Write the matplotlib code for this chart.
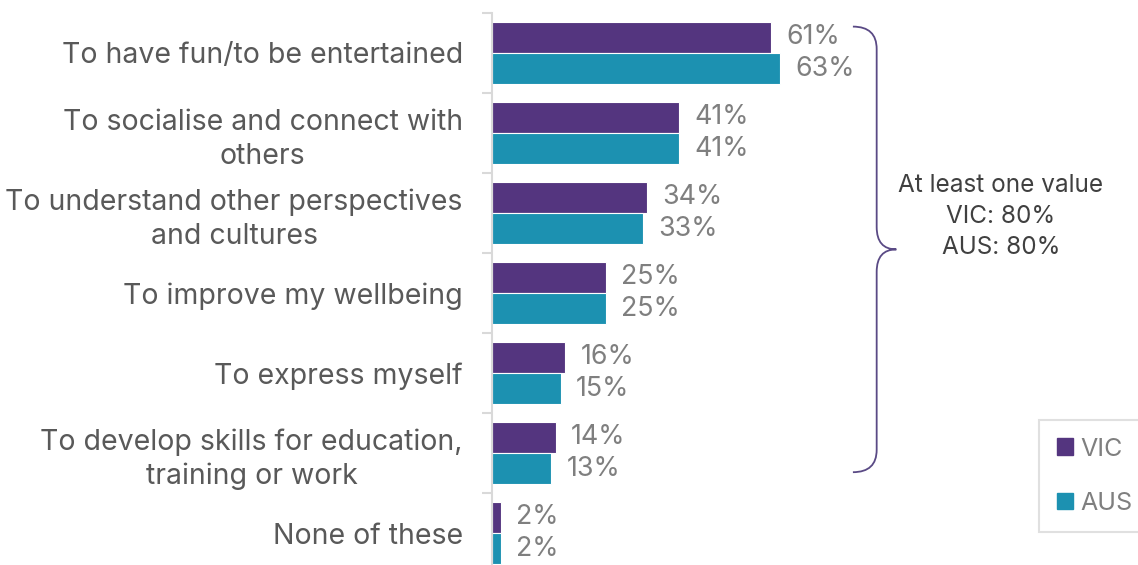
import numpy as np
import matplotlib.pyplot as plt
from matplotlib.path import Path
from matplotlib.patches import PathPatch, Patch

plt.rcParams['font.family'] = ['Inter', 'DejaVu Sans']

categories = [
    'To have fun/to be entertained',
    'To socialise and connect with\nothers',
    'To understand other perspectives\nand cultures',
    'To improve my wellbeing',
    'To express myself',
    'To develop skills for education,\ntraining or work',
    'None of these',
]
vic = [61, 41, 34, 25, 16, 14, 2]
aus = [63, 41, 33, 25, 15, 13, 2]
series_names = ['VIC', 'AUS']
summary_lines = ['At least one value', 'VIC: 80%', 'AUS: 80%']

PURPLE = '#54357f'
TEAL = '#1c91b1'
AXIS_GREY = '#d9d9d9'

fig = plt.figure(figsize=(11.38, 5.65), dpi=100)
ax = fig.add_axes([492 / 1138, -8 / 565, 646 / 1138, 560 / 565])

y = np.arange(len(categories))
off = 0.195
h = 0.39
ax.barh(y - off, vic, height=h, color=PURPLE, edgecolor='white', linewidth=0.8)
ax.barh(y + off, aus, height=h, color=TEAL, edgecolor='white', linewidth=0.8)

for yi, v in zip(y - off, vic):
    ax.annotate(f'{v}%', (v, yi), xytext=(11, 0), textcoords='offset points',
                va='center', ha='left', fontsize=19.3, color='#7f7f7f')
for yi, v in zip(y + off, aus):
    ax.annotate(f'{v}%', (v, yi), xytext=(11, 0), textcoords='offset points',
                va='center', ha='left', fontsize=19.3, color='#7f7f7f')

ax.set_xlim(0, 141.4)
ax.set_ylim(len(categories) - 0.5, -0.5)
ax.set_xticks([])
ax.set_yticks(y)
ax.set_yticklabels(categories, fontsize=20.5, color='#595959', multialignment='center',
                   linespacing=1.32)
ax.set_yticks(np.arange(len(categories) + 1) - 0.5, minor=True)
ax.tick_params(axis='y', which='major', length=0, pad=21)
ax.tick_params(axis='y', which='minor', length=7.5, width=1.5, color=AXIS_GREY, direction='out')
for s in ['top', 'right', 'bottom']:
    ax.spines[s].set_visible(False)
ax.spines['left'].set_color(AXIS_GREY)
ax.spines['left'].set_linewidth(1.5)

# curly brace grouping the first six answers
x0, x1, x2 = 79.0, 84.2, 88.5
yt, yb = -0.33, 5.24
ym = (yt + yb) / 2
r = 0.28
verts = [(x0, yt), (x1, yt), (x1, yt + r),
         (x1, ym - r),
         (x1, ym), (x2, ym),
         (x1, ym), (x1, ym + r),
         (x1, yb - r),
         (x1, yb), (x0, yb)]
codes = [Path.MOVETO, Path.CURVE3, Path.CURVE3,
         Path.LINETO,
         Path.CURVE3, Path.CURVE3,
         Path.CURVE3, Path.CURVE3,
         Path.LINETO,
         Path.CURVE3, Path.CURVE3]
ax.add_patch(PathPatch(Path(verts, codes), facecolor='none', edgecolor='#5a4a85',
                       linewidth=1.3, clip_on=False))

ax.text(111.4, 2.04, '\n'.join(summary_lines), ha='center', va='center',
        fontsize=17.5, color='#404040', linespacing=1.45)

handles = [Patch(facecolor=PURPLE, edgecolor=PURPLE), Patch(facecolor=TEAL, edgecolor=TEAL)]
leg = fig.legend(handles, series_names, loc='upper left',
                 bbox_to_anchor=(1039 / 1138, 1 - 420 / 565), frameon=True,
                 fancybox=False, fontsize=18, labelcolor='#7f7f7f',
                 handlelength=0.65, handleheight=0.65, handletextpad=0.3,
                 labelspacing=1.25, borderpad=0.7, borderaxespad=0)
leg.get_frame().set_edgecolor(AXIS_GREY)
leg.get_frame().set_linewidth(1.5)

fig.savefig('out.png', dpi=100)
